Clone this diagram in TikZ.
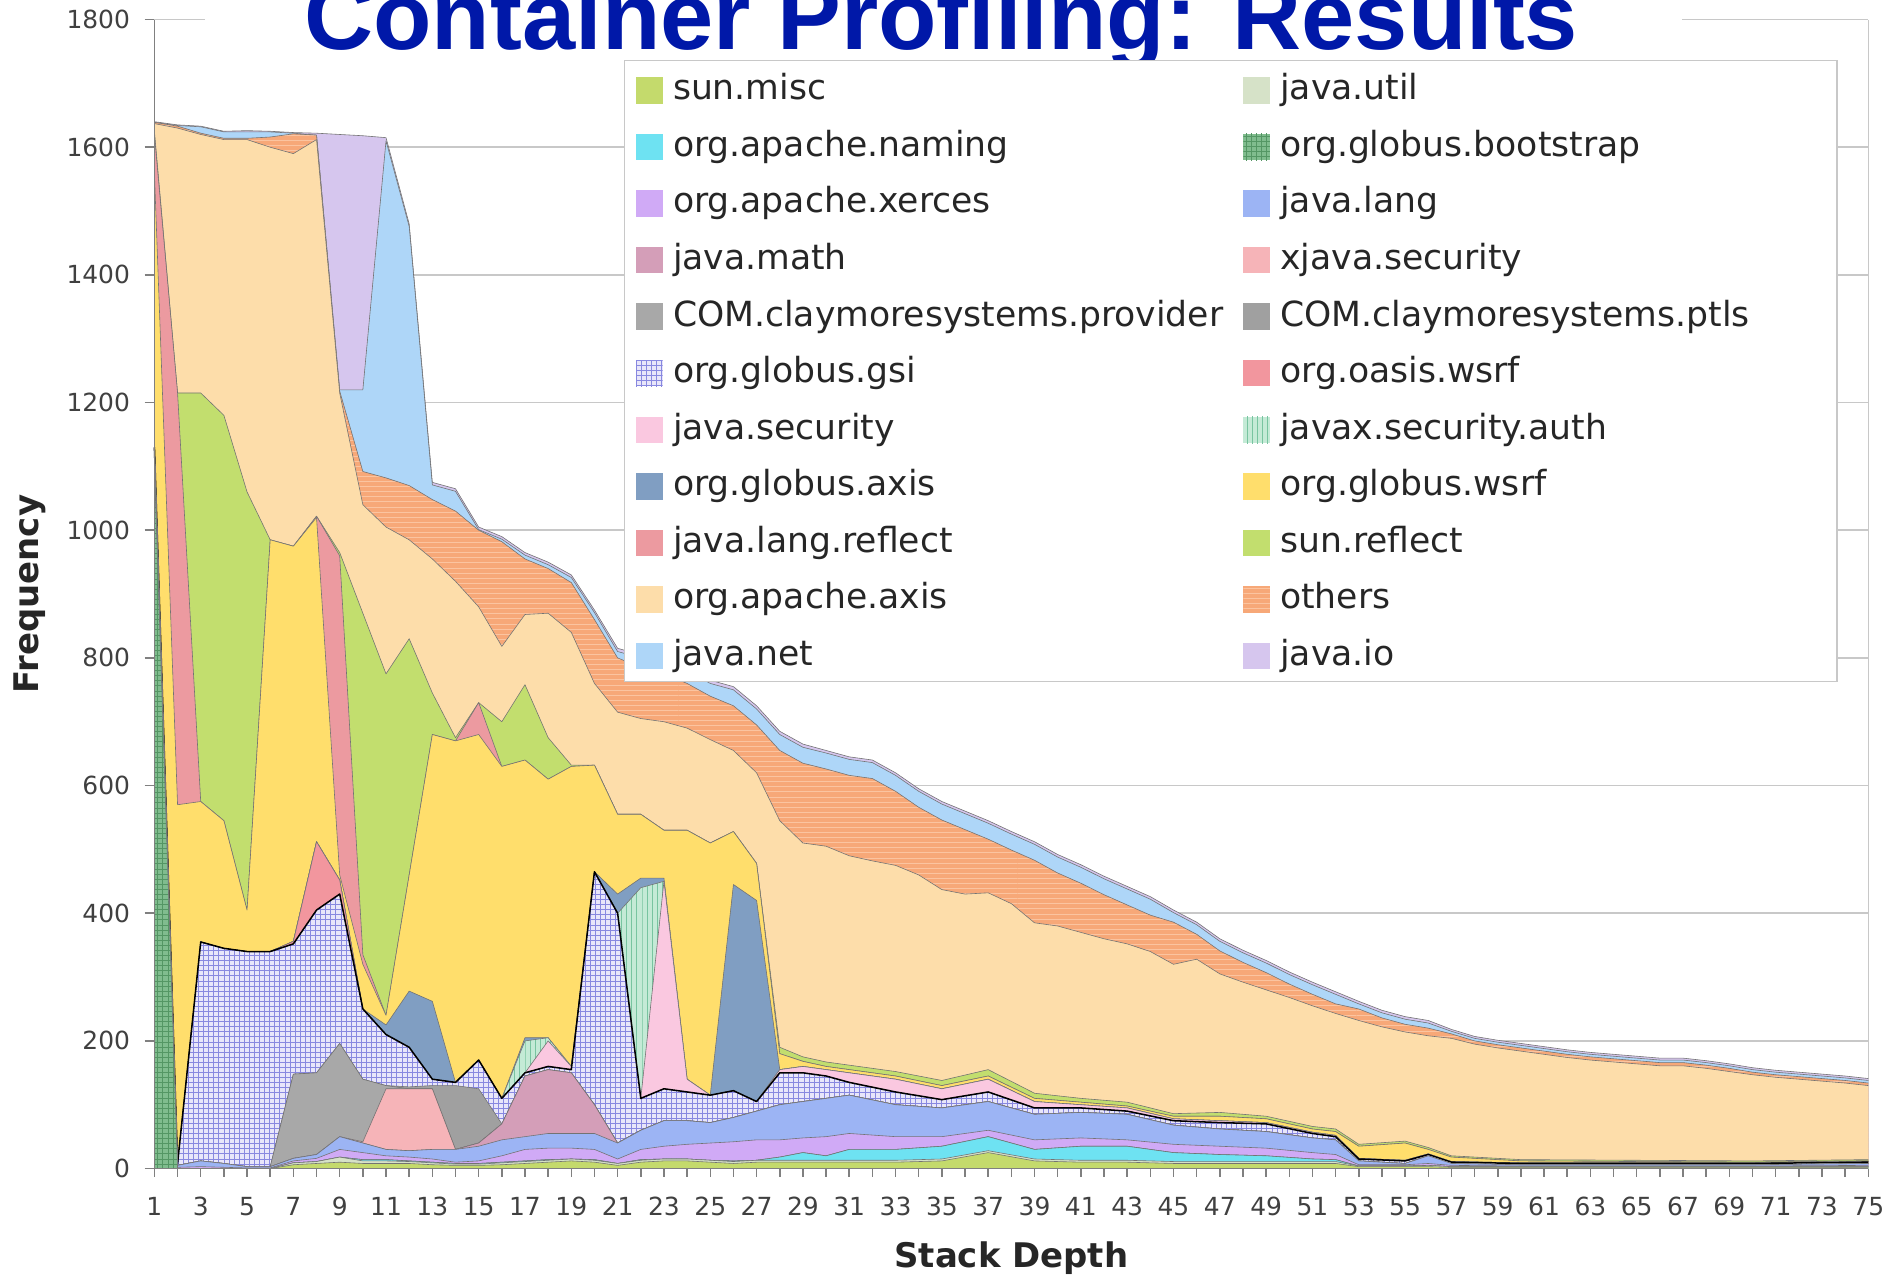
\documentclass[tikz,border=0pt]{standalone}
\usepackage{fontspec}
\setmainfont{DejaVu Sans}
\newfontfamily\titlefont{Liberation Sans}
\usepackage{tikz}
\usetikzlibrary{patterns,positioning}

\definecolor{cMisc}{RGB}{196,218,108}
\definecolor{cUtil}{RGB}{214,226,200}
\definecolor{cNaming}{RGB}{110,226,242}
\definecolor{cBoot}{RGB}{128,188,142}
\definecolor{cBootLine}{RGB}{84,150,100}
\definecolor{cXerces}{RGB}{208,170,246}
\definecolor{cLang}{RGB}{156,180,244}
\definecolor{cMath}{RGB}{212,158,184}
\definecolor{cXjava}{RGB}{246,180,184}
\definecolor{cProv}{RGB}{168,168,168}
\definecolor{cPtls}{RGB}{160,160,160}
\definecolor{cGsi}{RGB}{232,230,250}
\definecolor{cGsiLine}{RGB}{136,136,224}
\definecolor{cOasis}{RGB}{242,150,158}
\definecolor{cSec}{RGB}{250,200,224}
\definecolor{cAuth}{RGB}{196,234,214}
\definecolor{cAuthLine}{RGB}{120,196,160}
\definecolor{cGaxis}{RGB}{128,158,194}
\definecolor{cGwsrf}{RGB}{255,222,108}
\definecolor{cReflect}{RGB}{236,154,160}
\definecolor{cSunref}{RGB}{194,222,110}
\definecolor{cAaxis}{RGB}{253,221,170}
\definecolor{cOthers}{RGB}{247,168,120}
\definecolor{cOthersLine}{RGB}{251,196,160}
\definecolor{cNet}{RGB}{174,214,248}
\definecolor{cIo}{RGB}{214,198,238}
\definecolor{cTitle}{RGB}{0,24,168}
\definecolor{cGrid}{RGB}{200,200,200}
\definecolor{cAxis}{RGB}{128,128,128}
\definecolor{cTick}{RGB}{64,64,64}

\tikzset{
	fMisc/.style={fill=cMisc}, fUtil/.style={fill=cUtil}, fNaming/.style={fill=cNaming},
	fBoot/.style={fill=cBoot, postaction={pattern=grid, pattern color=cBootLine}},
	fXerces/.style={fill=cXerces}, fLang/.style={fill=cLang}, fMath/.style={fill=cMath},
	fXjava/.style={fill=cXjava}, fProv/.style={fill=cProv}, fPtls/.style={fill=cPtls},
	fGsi/.style={fill=cGsi, postaction={pattern=grid, pattern color=cGsiLine}},
	fOasis/.style={fill=cOasis}, fSec/.style={fill=cSec},
	fAuth/.style={fill=cAuth, postaction={pattern=vertical lines, pattern color=cAuthLine}},
	fGaxis/.style={fill=cGaxis}, fGwsrf/.style={fill=cGwsrf}, fReflect/.style={fill=cReflect},
	fSunref/.style={fill=cSunref}, fAaxis/.style={fill=cAaxis},
	fOthers/.style={fill=cOthers, postaction={pattern=horizontal lines, pattern color=cOthersLine}},
	fNet/.style={fill=cNet}, fIo/.style={fill=cIo},
	seam/.style={draw=black!55, line width=0.35pt, line join=round},
	seamgsi/.style={draw=black, line width=0.9pt, line join=round},
	gridline/.style={draw=cGrid, line width=0.9pt},
	axisline/.style={draw=cAxis, line width=0.9pt},
	keybox/.style={minimum size=15.6pt, inner sep=0pt},
	keytext/.style={inner sep=0pt, text height=0.75em, text depth=0.2em, yshift=-2.8pt, font=\fontsize{20.4}{24}\selectfont, text=black!85},
	ticklab/.style={inner sep=0pt, font=\fontsize{14.7}{17}\selectfont, text=cTick},
	axtitle/.style={inner sep=0pt, font=\fontsize{20}{24}\selectfont\bfseries, text=black!85}
}

% one series of the stacked area: fill down to the axis, then its top seam
\newcommand{\stacklayer}[3]{%
	\path[#1] (1,0) -- plot coordinates {#3} -- (75,0) -- cycle;
	\draw[#2] plot coordinates {#3};
}

\begin{document}
\begin{tikzpicture}[x=0.025cm,y=0.025cm]
	\useasboundingbox (0,0) rectangle (1568,1058);
	%
	\begin{scope}[x=0.48cm, y=0.0132225cm, xshift=2.72cm, yshift=2.225cm]
		\foreach \v in {200,400,...,1800} \draw[gridline] (1,\v) -- (75,\v);
		\draw[gridline] (75,0) -- (75,1800);
		%
		% stacked series, top one first
		\stacklayer{fIo}{seam}{(1,1640)(2,1635)(3,1633)(4,1625)(5,1626)(6,1625)(7,1623)(8,1622)(9,1620)(10,1618)(11,1615)(12,1480)(13,1075)(14,1065)(15,1005)(16,990)(17,965)(18,950)(19,930)(20,875)(21,815)(22,805)(23,800)(24,785)(25,765)(26,755)(27,725)(28,685)(29,665)(30,655)(31,645)(32,640)(33,620)(34,595)(35,575)(36,560)(37,545)(38,528)(39,512)(40,492)(41,476)(42,458)(43,442)(44,426)(45,405)(46,386)(47,360)(48,342)(49,326)(50,308)(51,292)(52,277)(53,262)(54,248)(55,238)(56,232)(57,218)(58,207)(59,201)(60,196)(61,191)(62,186)(63,182)(64,179)(65,176)(66,173)(67,173)(68,169)(69,164)(70,158)(71,154)(72,151)(73,148)(74,145)(75,141)}
		\stacklayer{fNet}{seam}{(1,1639)(2,1634)(3,1632)(4,1624)(5,1624)(6,1624)(7,1622)(8,1619)(9,1220)(10,1220)(11,1610)(12,1476)(13,1071)(14,1061)(15,1001)(16,986)(17,961)(18,946)(19,926)(20,871)(21,810)(22,800)(23,795)(24,780)(25,760)(26,750)(27,720)(28,680)(29,660)(30,651)(31,641)(32,636)(33,616)(34,591)(35,571)(36,556)(37,541)(38,524)(39,508)(40,488)(41,472)(42,454)(43,438)(44,422)(45,401)(46,382)(47,356)(48,338)(49,322)(50,304)(51,288)(52,273)(53,258)(54,244)(55,234)(56,228)(57,215)(58,204)(59,198)(60,193)(61,188)(62,183)(63,179)(64,176)(65,173)(66,170)(67,170)(68,166)(69,161)(70,155)(71,151)(72,148)(73,145)(74,142)(75,138)}
		\stacklayer{fOthers}{seam}{(1,1639)(2,1633)(3,1622)(4,1614)(5,1614)(6,1616)(7,1621)(8,1619)(9,1218)(10,1092)(11,1082)(12,1070)(13,1048)(14,1030)(15,1000)(16,982)(17,955)(18,940)(19,918)(20,860)(21,800)(22,785)(23,775)(24,760)(25,740)(26,725)(27,695)(28,655)(29,635)(30,626)(31,616)(32,611)(33,591)(34,566)(35,546)(36,531)(37,516)(38,499)(39,483)(40,463)(41,447)(42,429)(43,413)(44,397)(45,386)(46,367)(47,341)(48,323)(49,307)(50,289)(51,273)(52,258)(53,250)(54,236)(55,226)(56,220)(57,211)(58,200)(59,194)(60,189)(61,184)(62,179)(63,175)(64,172)(65,169)(66,166)(67,166)(68,162)(69,157)(70,151)(71,147)(72,144)(73,141)(74,138)(75,134)}
		\stacklayer{fAaxis}{seam}{(1,1637)(2,1630)(3,1620)(4,1612)(5,1612)(6,1600)(7,1590)(8,1612)(9,1215)(10,1040)(11,1005)(12,985)(13,955)(14,920)(15,880)(16,818)(17,868)(18,870)(19,840)(20,760)(21,715)(22,705)(23,700)(24,690)(25,672)(26,655)(27,620)(28,545)(29,510)(30,505)(31,490)(32,482)(33,475)(34,460)(35,437)(36,430)(37,432)(38,415)(39,385)(40,380)(41,370)(42,360)(43,352)(44,340)(45,320)(46,328)(47,305)(48,292)(49,280)(50,268)(51,255)(52,243)(53,232)(54,222)(55,214)(56,208)(57,204)(58,195)(59,189)(60,184)(61,179)(62,174)(63,170)(64,167)(65,164)(66,161)(67,161)(68,157)(69,152)(70,147)(71,143)(72,140)(73,137)(74,134)(75,130)}
		\stacklayer{fSunref}{seam}{(1,1625)(2,1215)(3,1215)(4,1180)(5,1060)(6,985)(7,975)(8,1022)(9,965)(10,870)(11,775)(12,830)(13,745)(14,675)(15,730)(16,700)(17,758)(18,675)(19,632)(20,632)(21,555)(22,555)(23,530)(24,530)(25,510)(26,528)(27,478)(28,190)(29,175)(30,167)(31,162)(33,152)(35,138)(37,155)(39,118)(41,110)(43,104)(45,86)(47,88)(49,82)(51,66)(52,62)(53,38)(55,43)(56,33)(57,20)(60,14)(65,13)(70,12)(75,14)}
		\stacklayer{fReflect}{seam}{(1,1620)(2,1215)(3,575)(4,545)(5,405)(6,985)(7,975)(8,1022)(9,960)(10,335)(11,240)(12,460)(13,680)(14,670)(15,730)(16,630)(17,640)(18,610)(19,630)(20,632)(21,555)(22,555)(23,530)(24,530)(25,510)(26,528)(27,478)(28,180)(29,168)(30,160)(31,155)(33,145)(35,130)(37,145)(39,110)(41,104)(43,98)(45,82)(47,82)(49,78)(51,62)(52,58)(53,35)(55,40)(56,30)(57,18)(60,12)(65,11)(70,10)(75,12)}
		\stacklayer{fGwsrf}{seam}{(1,1560)(2,570)(3,575)(4,545)(5,405)(6,985)(7,975)(8,1020)(9,460)(10,320)(11,240)(12,460)(13,680)(14,670)(15,680)(16,630)(17,640)(18,610)(19,630)(20,632)(21,555)(22,555)(23,530)(24,530)(25,510)(26,528)(27,478)(28,180)(29,168)(30,160)(31,155)(33,145)(35,130)(37,145)(39,110)(41,104)(43,98)(45,82)(47,82)(49,78)(51,62)(52,58)(53,35)(55,40)(56,30)(57,18)(60,12)(65,11)(70,10)(75,12)}
		\stacklayer{fGaxis}{seam}{(1,1130)(2,8)(3,355)(4,345)(5,340)(6,340)(7,356)(8,512)(9,452)(10,250)(11,225)(12,278)(13,262)(14,135)(15,170)(16,110)(17,205)(18,205)(19,160)(20,465)(21,430)(22,455)(23,455)(24,140)(25,115)(26,445)(27,420)(28,155)(29,160)(30,155)(31,150)(33,140)(35,125)(37,140)(39,105)(41,100)(43,95)(45,78)(47,75)(49,72)(51,57)(52,52)(53,16)(55,13)(56,23)(57,11)(60,9)(65,9)(70,9)(75,11)}
		\stacklayer{fAuth}{seam}{(1,1130)(2,8)(3,355)(4,345)(5,340)(6,340)(7,356)(8,512)(9,452)(10,250)(11,210)(12,190)(13,140)(14,135)(15,170)(16,110)(17,200)(18,205)(19,160)(20,465)(21,400)(22,440)(23,450)(24,140)(25,115)(26,122)(27,105)(28,155)(29,160)(30,155)(31,150)(33,140)(35,125)(37,140)(39,105)(41,100)(43,95)(45,78)(47,75)(49,72)(51,57)(52,52)(53,16)(55,13)(56,23)(57,11)(60,9)(65,9)(70,9)(75,11)}
		\stacklayer{fSec}{seam}{(1,1130)(2,8)(3,355)(4,345)(5,340)(6,340)(7,356)(8,512)(9,452)(10,250)(11,210)(12,190)(13,140)(14,135)(15,170)(16,110)(17,150)(18,200)(19,160)(20,465)(21,400)(22,110)(23,450)(24,140)(25,115)(26,122)(27,105)(28,155)(29,160)(30,155)(31,150)(33,140)(35,125)(37,140)(39,105)(41,100)(43,95)(45,78)(47,75)(49,72)(51,57)(52,52)(53,16)(55,13)(56,23)(57,11)(60,9)(65,9)(70,9)(75,11)}
		\stacklayer{fOasis}{seam}{(1,1130)(2,8)(3,355)(4,345)(5,340)(6,340)(7,356)(8,512)(9,452)(10,250)(11,210)(12,190)(13,140)(14,135)(15,170)(16,110)(17,150)(18,160)(19,155)(20,465)(21,400)(22,110)(23,125)(24,120)(25,115)(26,122)(27,105)(28,150)(29,150)(30,145)(31,135)(33,120)(35,108)(37,120)(39,95)(41,95)(43,90)(45,75)(47,72)(49,70)(51,55)(52,50)(53,15)(55,12)(56,22)(57,10)(60,8)(65,8)(70,8)(75,10)}
		\stacklayer{fGsi}{seamgsi}{(1,1130)(2,8)(3,355)(4,345)(5,340)(6,340)(7,352)(8,405)(9,430)(10,250)(11,210)(12,190)(13,140)(14,135)(15,170)(16,110)(17,150)(18,160)(19,155)(20,465)(21,400)(22,110)(23,125)(24,120)(25,115)(26,122)(27,105)(28,150)(29,150)(30,145)(31,135)(33,120)(35,108)(37,120)(39,95)(41,95)(43,90)(45,75)(47,72)(49,70)(51,55)(52,50)(53,15)(55,12)(56,22)(57,10)(60,8)(65,8)(70,8)(75,10)}
		\stacklayer{fPtls}{seam}{(1,1130)(2,5)(3,12)(4,8)(5,3)(6,3)(7,148)(8,150)(9,196)(10,140)(11,130)(12,128)(13,130)(14,130)(15,125)(16,70)(17,145)(18,155)(19,150)(20,100)(21,40)(22,60)(23,75)(24,75)(25,72)(26,80)(27,90)(28,100)(29,105)(30,110)(31,115)(33,100)(35,95)(37,105)(39,85)(41,88)(43,85)(45,68)(47,62)(49,58)(51,48)(52,45)(53,12)(55,8)(56,20)(57,8)(60,6)(65,6)(70,6)(75,8)}
		\stacklayer{fProv}{seam}{(1,1130)(2,5)(3,12)(4,8)(5,3)(6,3)(7,148)(8,150)(9,196)(10,140)(11,130)(12,125)(13,125)(14,30)(15,40)(16,70)(17,145)(18,155)(19,150)(20,100)(21,40)(22,60)(23,75)(24,75)(25,72)(26,80)(27,90)(28,100)(29,105)(30,110)(31,115)(33,100)(35,95)(37,105)(39,85)(41,88)(43,85)(45,68)(47,62)(49,58)(51,48)(52,45)(53,12)(55,8)(56,20)(57,8)(60,6)(65,6)(70,6)(75,8)}
		\stacklayer{fXjava}{seam}{(1,1130)(2,5)(3,12)(4,8)(5,3)(6,3)(7,16)(8,22)(9,50)(10,42)(11,125)(12,125)(13,125)(14,30)(15,40)(16,70)(17,145)(18,155)(19,150)(20,100)(21,40)(22,60)(23,75)(24,75)(25,72)(26,80)(27,90)(28,100)(29,105)(30,110)(31,115)(33,100)(35,95)(37,105)(39,85)(41,88)(43,85)(45,68)(47,62)(49,58)(51,48)(52,45)(53,12)(55,8)(56,20)(57,8)(60,6)(65,6)(70,6)(75,8)}
		\stacklayer{fMath}{seam}{(1,1130)(2,5)(3,12)(4,8)(5,3)(6,3)(7,16)(8,22)(9,50)(10,40)(11,30)(12,28)(13,30)(14,30)(15,40)(16,70)(17,145)(18,155)(19,150)(20,100)(21,40)(22,60)(23,75)(24,75)(25,72)(26,80)(27,90)(28,100)(29,105)(30,110)(31,115)(33,100)(35,95)(37,105)(39,85)(41,88)(43,85)(45,68)(47,62)(49,58)(51,48)(52,45)(53,12)(55,8)(56,20)(57,8)(60,6)(65,6)(70,6)(75,8)}
		\stacklayer{fLang}{seam}{(1,1130)(2,5)(3,12)(4,8)(5,3)(6,3)(7,16)(8,22)(9,50)(10,40)(11,30)(12,28)(13,30)(14,30)(15,35)(16,45)(17,50)(18,55)(19,55)(20,55)(21,40)(22,60)(23,75)(24,75)(25,72)(26,80)(27,90)(28,100)(29,105)(30,110)(31,115)(33,100)(35,95)(37,105)(39,85)(41,88)(43,85)(45,68)(47,62)(49,58)(51,48)(52,45)(53,12)(55,8)(56,20)(57,8)(60,6)(65,6)(70,6)(75,8)}
		\stacklayer{fXerces}{seam}{(1,1105)(2,2)(3,3)(4,2)(5,1)(6,1)(7,12)(8,16)(9,30)(10,25)(11,20)(12,18)(13,15)(14,10)(15,12)(16,20)(17,30)(18,32)(19,32)(20,30)(21,15)(22,30)(23,35)(24,38)(25,40)(26,42)(27,45)(28,45)(29,48)(30,50)(31,55)(33,50)(35,50)(37,60)(39,45)(41,48)(43,45)(45,38)(47,35)(49,32)(51,25)(52,22)(53,6)(55,6)(56,8)(57,5)(60,4)(65,4)(70,4)(75,5)}
		\stacklayer{fBoot}{seam}{(1,1100)(2,0)(3,0)(4,0)(5,0)(6,0)(7,9)(8,11)(9,18)(10,14)(11,14)(12,12)(13,10)(14,8)(15,8)(16,10)(17,12)(18,14)(19,15)(20,14)(21,8)(22,14)(23,15)(24,15)(25,13)(26,12)(27,13)(28,18)(29,25)(30,20)(31,30)(33,30)(35,35)(37,50)(39,30)(41,35)(43,35)(45,25)(47,22)(49,20)(51,15)(52,14)(53,4)(55,4)(56,5)(57,3)(60,3)(65,3)(70,3)(75,3)}
		\stacklayer{fNaming}{seam}{(1,0)(2,0)(3,0)(4,0)(5,0)(6,0)(7,9)(8,11)(9,18)(10,14)(11,14)(12,12)(13,10)(14,8)(15,8)(16,10)(17,12)(18,14)(19,15)(20,14)(21,8)(22,14)(23,15)(24,15)(25,13)(26,12)(27,13)(28,18)(29,25)(30,20)(31,30)(33,30)(35,35)(37,50)(39,30)(41,35)(43,35)(45,25)(47,22)(49,20)(51,15)(52,14)(53,4)(55,4)(56,5)(57,3)(60,3)(65,3)(70,3)(75,3)}
		\stacklayer{fUtil}{seam}{(1,0)(6,0)(7,9)(8,11)(9,18)(10,12)(11,12)(12,11)(13,9)(14,7)(15,7)(16,9)(17,11)(18,13)(19,15)(20,13)(21,8)(22,13)(23,15)(24,15)(25,13)(26,11)(27,13)(28,13)(29,13)(30,13)(31,13)(33,13)(35,15)(37,28)(39,15)(41,13)(43,13)(45,11)(47,11)(49,11)(51,11)(52,11)(53,4)(55,4)(56,5)(57,3)(60,3)(65,3)(70,3)(75,3)}
		\stacklayer{fMisc}{seam}{(1,0)(6,0)(7,6)(8,8)(9,10)(10,8)(11,8)(12,8)(13,6)(14,5)(15,5)(16,6)(17,8)(18,10)(19,12)(20,10)(21,5)(22,10)(23,12)(24,12)(25,10)(26,8)(27,10)(28,10)(29,10)(30,10)(31,10)(33,10)(35,12)(37,25)(39,12)(41,10)(43,10)(45,8)(47,8)(49,8)(51,8)(52,8)(53,3)(55,3)(56,3)(57,2)(60,2)(65,2)(70,2)(75,2)}
		%
		% axes and their labels
		\draw[axisline] (1,1800) -- (1,0) -- (75,0);
		\foreach \v in {0,200,...,1800} {
			\draw[axisline] (0.58,\v) -- (1,\v);
			\node[ticklab, anchor=east] (ytick\v) at (-0.04,\v) {\v};
		}
		\foreach \d in {1,...,75} \draw[axisline] (\d,0) -- (\d,-13);
		\foreach \d in {1,3,...,75} \node[ticklab] (xtick\d) at (\d,-59) {\d};
		\node[axtitle] (xtitle) at (38,-140) {Stack Depth};
		\node[axtitle, rotate=90] (ytitle) at (-4.36,900) {Frequency};
	\end{scope}
	%
	% title over the top gridline
	\fill[white] (170,1028) rectangle (1395,1062);
	\node[anchor=base, inner sep=0pt, text=cTitle, font=\titlefont\bfseries\fontsize{56.4}{60}\selectfont] (title) at (780.5,1017) {Container Profiling: Results};
	%
	% legend
	\draw[draw=cGrid, fill=white, line width=0.9pt] (518,1008) rectangle (1523,493);
	\foreach \lab/\sty [count=\i from 0] in {sun.misc/fMisc, org.apache.naming/fNaming, org.apache.xerces/fXerces, java.math/fMath, COM.claymoresystems.provider/fProv, org.globus.gsi/fGsi, java.security/fSec, org.globus.axis/fGaxis, java.lang.reflect/fReflect, org.apache.axis/fAaxis, java.net/fNet} {
		\node[keybox, \sty] (keyL\i) at (538.5,983-46.9*\i) {};
		\node[keytext, right=5.7pt of keyL\i] (labL\i) {\lab};
	}
	\foreach \lab/\sty [count=\i from 0] in {java.util/fUtil, org.globus.bootstrap/fBoot, java.lang/fLang, xjava.security/fXjava, COM.claymoresystems.ptls/fPtls, org.oasis.wsrf/fOasis, javax.security.auth/fAuth, org.globus.wsrf/fGwsrf, sun.reflect/fSunref, others/fOthers, java.io/fIo} {
		\node[keybox, \sty] (keyR\i) at (1042,983-46.9*\i) {};
		\node[keytext, right=5.7pt of keyR\i] (labR\i) {\lab};
	}
\end{tikzpicture}
\end{document}
